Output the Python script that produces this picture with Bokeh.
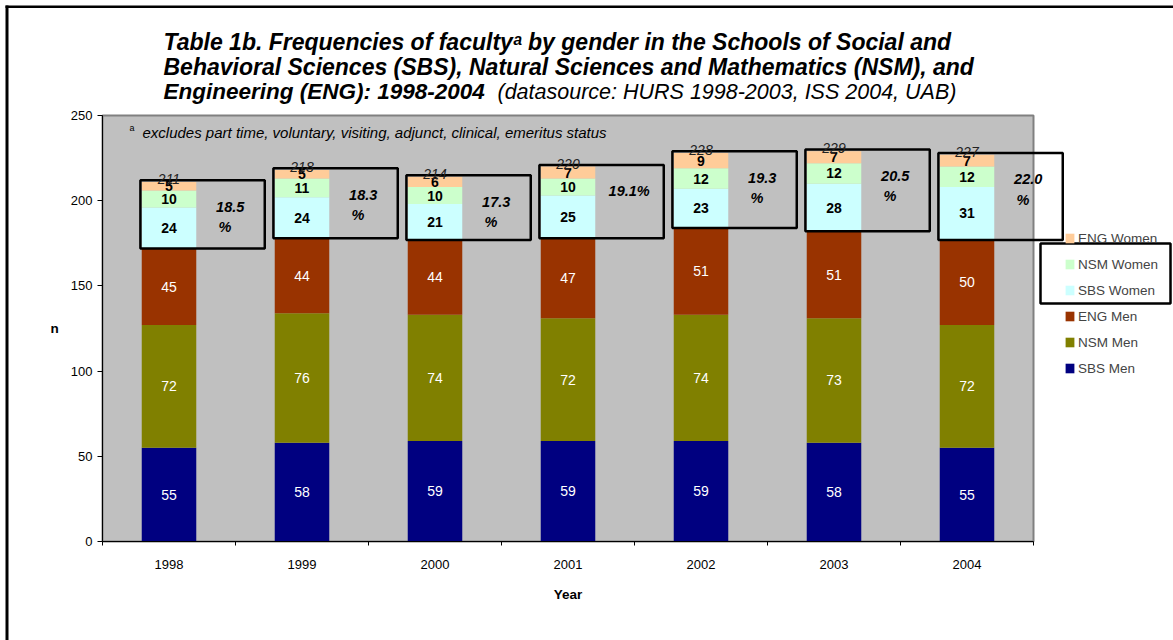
from bokeh.plotting import figure
from bokeh.models import ColumnDataSource, FixedTicker, Legend, LegendItem
from bokeh.core.properties import value
from bokeh.embed import file_html
from bokeh.resources import INLINE

# ---------------- data ----------------
years = ["1998", "1999", "2000", "2001", "2002", "2003", "2004"]
sbs_men = [55, 58, 59, 59, 59, 58, 55]
nsm_men = [72, 76, 74, 72, 74, 73, 72]
eng_men = [45, 44, 44, 47, 51, 51, 50]
sbs_women = [24, 24, 21, 25, 23, 28, 31]
nsm_women = [10, 11, 10, 10, 12, 12, 12]
eng_women = [5, 5, 6, 7, 9, 7, 7]
pct_line1 = ["18.5", "18.3", "17.3", "19.1%", "19.3", "20.5", "22.0"]
pct_line2 = ["%", "%", "%", "", "%", "%", "%"]
y_ticks = [0, 50, 100, 150, 200, 250]

series_names = ["SBS Men", "NSM Men", "ENG Men", "SBS Women", "NSM Women", "ENG Women"]
series_values = [sbs_men, nsm_men, eng_men, sbs_women, nsm_women, eng_women]
series_colors = ["#000080", "#808000", "#993300", "#CCFFFF", "#CCFFCC", "#FFCC99"]

title_1 = "Table 1b. Frequencies of faculty\u1d43  by gender in the Schools of Social and"
title_2 = "Behavioral Sciences (SBS), Natural Sciences and Mathematics (NSM), and"
title_3a = "Engineering (ENG): 1998-2004"
title_3b = "(datasource: HURS 1998-2003, ISS 2004, UAB)"
note = "excludes part time, voluntary, visiting, adjunct, clinical, emeritus status"

FONT = "Liberation Sans"

# ---------------- layout (pixels) ----------------
W, H = 1173, 640
PA_L, PA_R, PA_T, PA_B = 102, 1033, 115, 541      # plot area box
x_lo, x_hi = 0.5, len(years) + 0.5
y_lo, y_hi = y_ticks[0], y_ticks[-1]
kx = (PA_R - PA_L) / (x_hi - x_lo)
ky = (PA_B - PA_T) / (y_hi - y_lo)
xr = (x_lo - PA_L / kx, x_hi + (W - PA_R) / kx)
yr = (y_lo - (H - PA_B) / ky, y_hi + PA_T / ky)


def X(px):
    return xr[0] + px / kx


def Y(py):
    return yr[1] - py / ky


xs = [i + 1 for i in range(len(years))]
data = {"x": xs}
for n, v in zip(series_names, series_values):
    data[n] = v
src = ColumnDataSource(data)

p = figure(width=W, height=H, output_backend="svg", toolbar_location=None,
           x_range=xr, y_range=yr, min_border=0, min_border_left=0,
           min_border_right=0, min_border_top=0, min_border_bottom=0)
p.title.visible = False
p.background_fill_color = "white"
p.border_fill_color = "white"
p.outline_line_color = None
p.xgrid.visible = False
p.ygrid.visible = False

# outer frame lines of the chart sheet
p.quad(left=[X(5)], right=[X(W + 5)], top=[Y(5)], bottom=[Y(7.5)],
       fill_color="black", line_color=None)
p.quad(left=[X(5)], right=[X(8)], top=[Y(5)], bottom=[Y(H + 5)],
       fill_color="black", line_color=None)

# plot area
p.quad(left=[x_lo], right=[x_hi], bottom=[y_lo], top=[y_hi],
       fill_color="#C0C0C0", line_color="#808080", line_width=2)

bar_w = 0.41
rs = p.vbar_stack(series_names, x="x", width=bar_w, color=series_colors,
                  line_color=None, source=src)

# ---------- segment labels ----------
lx, ly, lt = [], [], []
wx, wy, wt = [], [], []
bottoms = [0] * len(years)
for k, vals in enumerate(series_values):
    for i, v in enumerate(vals):
        mid = bottoms[i] + v / 2
        if k < 3:
            lx.append(xs[i]); ly.append(mid); lt.append(str(v))
        else:
            wx.append(xs[i]); wy.append(mid); wt.append(str(v))
        bottoms[i] += v
totals = bottoms
men_tot = [a + b + c for a, b, c in zip(sbs_men, nsm_men, eng_men)]

p.text(x=lx, y=ly, text=lt, text_color="white", text_font=value(FONT),
       text_font_size="14px", text_align="center", text_baseline="middle")
p.text(x=wx, y=wy, text=wt, text_color="black", text_font=value(FONT),
       text_font_size="14px", text_font_style="bold", text_align="center",
       text_baseline="middle")

# ---------- boxes around the women stacks ----------
p.quad(left=[x - 0.215 for x in xs], right=[x + 0.72 for x in xs],
       bottom=men_tot, top=[t + 1 for t in totals],
       fill_color=None, line_color="black", line_width=2.5)

p.text(x=xs, y=totals, text=[str(t) for t in totals], text_color="#222",
       text_font=value(FONT), text_font_size="14px", text_font_style="italic",
       text_align="center", text_baseline="alphabetic", y_offset=-3)

p.text(x=[x + 0.46 for x in xs], y=[t - 14.5 for t in totals], text=pct_line1,
       text_font=value(FONT), text_font_size="14.5px", text_font_style="bold italic",
       text_align="center", text_baseline="middle", text_color="black")
p.text(x=[x + 0.42 for x in xs], y=[t - 26.5 for t in totals], text=pct_line2,
       text_font=value(FONT), text_font_size="14.5px", text_font_style="bold italic",
       text_align="center", text_baseline="middle", text_color="black")

# ---------- axes ----------
xa = p.xaxis[0]
xa.fixed_location = y_lo
xa.bounds = (x_lo, x_hi)
xa.ticker = FixedTicker(ticks=xs, minor_ticks=[i + 0.5 for i in range(len(years) + 1)])
xa.major_label_overrides = {x: y for x, y in zip(xs, years)}
xa.major_tick_out = 0
xa.major_tick_in = 0
xa.minor_tick_out = 4
xa.minor_tick_in = 0
xa.minor_tick_line_color = "black"
xa.axis_line_color = "black"
xa.major_label_standoff = 14
xa.major_label_text_font = FONT
xa.major_label_text_font_size = "13px"
xa.major_label_text_color = "black"

ya = p.yaxis[0]
ya.fixed_location = x_lo
ya.bounds = (y_lo, y_hi)
ya.ticker = FixedTicker(ticks=y_ticks)
ya.major_tick_out = 5
ya.major_tick_in = 0
ya.minor_tick_out = 0
ya.minor_tick_in = 0
ya.axis_line_color = "black"
ya.major_tick_line_color = "black"
ya.major_label_standoff = 5
ya.major_label_text_font = FONT
ya.major_label_text_font_size = "13px"
ya.major_label_text_color = "black"

# axis titles
p.text(x=[(x_lo + x_hi) / 2], y=[Y(594)], text=["Year"], text_font=value(FONT),
       text_font_size="13.5px", text_font_style="bold", text_align="center",
       text_baseline="middle", text_color="black")
p.text(x=[X(54)], y=[(y_lo + y_hi) / 2], text=["n"], text_font=value(FONT),
       text_font_size="13.5px", text_font_style="bold", text_align="center",
       text_baseline="middle", text_color="black")

# ---------- legend ----------
items = [LegendItem(label=series_names[k], renderers=[rs[k]]) for k in range(5, -1, -1)]
leg = Legend(items=items, location=(1064, H - 376), orientation="vertical",
             glyph_width=11, glyph_height=12, label_height=16, spacing=10,
             padding=0, margin=0, label_standoff=3,
             label_text_font=FONT, label_text_font_size="13.5px",
             border_line_color=None, background_fill_alpha=0)
p.add_layout(leg, "center")
p.quad(left=[X(1040)], right=[X(1170)], top=[Y(243)], bottom=[Y(303)],
       fill_color=None, line_color="black", line_width=2.5)

# ---------- title / note ----------
def txt(px, py, s, size, style):
    p.text(x=[X(px)], y=[Y(py)], text=[s], text_font=value(FONT),
           text_font_size=size, text_font_style=style, text_color="black",
           text_align="left", text_baseline="alphabetic")


txt(163, 41.5, title_1, "23px", "bold italic")
txt(163, 66.5, title_2, "23px", "bold italic")
txt(163, 91, title_3a, "22.5px", "bold italic")
txt(497, 91, title_3b, "21.5px", "italic")
txt(129, 127, "a", "9px", "normal")
txt(142, 132, note, "15px", "italic")

open("out.html", "w").write(file_html(p, INLINE))
